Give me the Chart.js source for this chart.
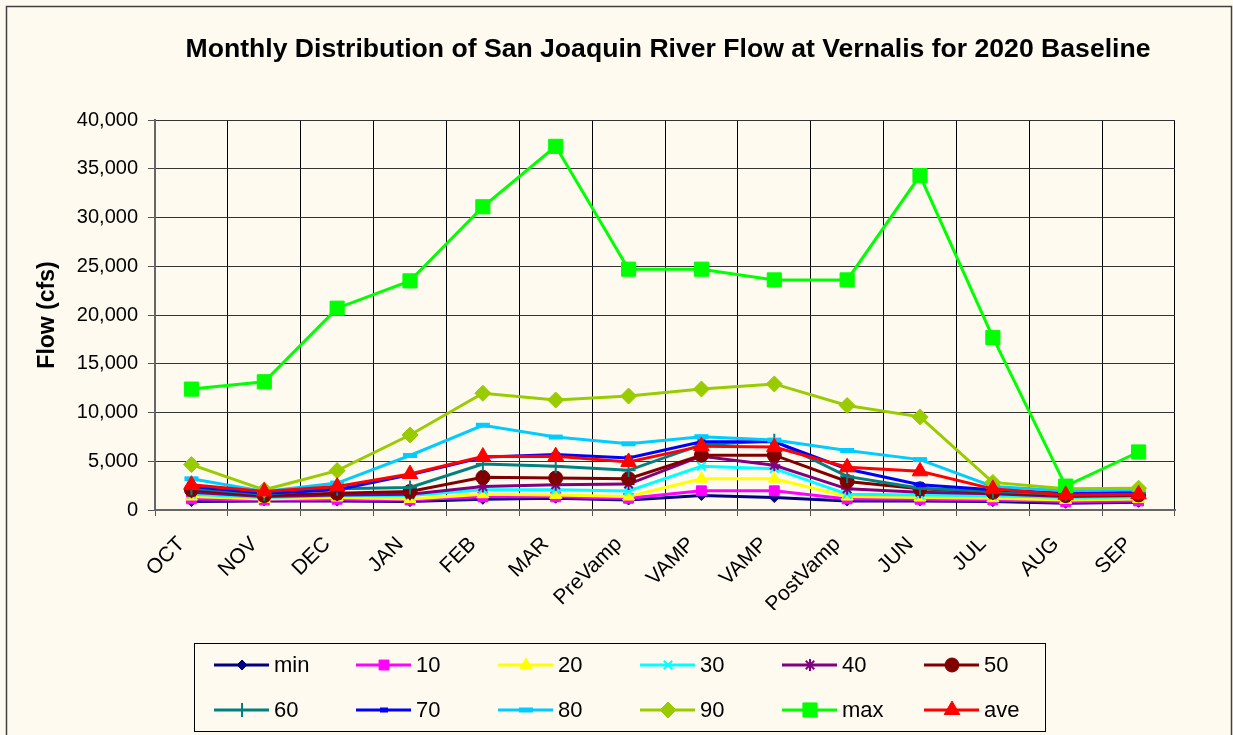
<!DOCTYPE html>
<html>
<head>
<meta charset="utf-8">
<script src="https://cdn.jsdelivr.net/npm/chart.js@4/dist/chart.umd.min.js"></script>
<style>
  html, body { margin: 0; padding: 0; background: #FFFAF0; overflow: hidden; }
  canvas { display: block; }
</style>
</head>
<body>
<canvas id="c" width="1233" height="735" style="width:1233px;height:735px"></canvas>
<script>
const chartTitle = 'Monthly Distribution of San Joaquin River Flow at Vernalis for 2020 Baseline';
const yAxisTitle = 'Flow (cfs)';
const categories = ['OCT','NOV','DEC','JAN','FEB','MAR','PreVamp','VAMP','VAMP','PostVamp','JUN','JUL','AUG','SEP'];
const yTicks = [0, 5000, 10000, 15000, 20000, 25000, 30000, 35000, 40000];

const seriesNames = ['min','10','20','30','40','50','60','70','80','90','max','ave'];
const minFlow = [860, 930, 930, 860, 1100, 1210, 1030, 1480, 1280, 930, 930, 860, 690, 790];
const p10     = [1140, 1030, 1100, 1030, 1350, 1350, 1200, 1970, 1970, 1140, 1100, 1030, 860, 930];
const p20     = [1380, 1140, 1280, 1140, 1620, 1550, 1380, 3210, 3210, 1380, 1280, 1210, 1030, 1140];
const p30     = [1620, 1280, 1450, 1480, 2070, 2070, 1950, 4480, 4240, 1620, 1550, 1450, 1280, 1340];
const p40     = [1830, 1380, 1550, 1620, 2410, 2590, 2660, 5520, 4590, 2170, 1830, 1660, 1380, 1480];
const p50     = [2070, 1480, 1720, 1900, 3350, 3280, 3210, 5620, 5620, 2930, 2170, 1830, 1480, 1550];
const p60     = [2240, 1620, 2170, 2310, 4720, 4480, 4070, 6700, 7100, 3450, 2240, 1900, 1620, 1720];
const p70     = [2410, 1720, 2070, 3620, 5410, 5690, 5340, 7000, 7000, 4210, 2590, 2070, 1720, 1830];
const p80     = [3200, 1900, 2760, 5590, 8690, 7480, 6790, 7520, 7170, 6100, 5170, 2410, 1970, 2070];
const p90     = [4660, 2070, 4040, 7690, 11970, 11280, 11690, 12410, 12930, 10720, 9550, 2830, 2170, 2240];
const maxFlow = [12400, 13150, 20700, 23500, 31100, 37300, 24700, 24700, 23600, 23600, 34300, 17700, 2450, 5950];
const aveFlow = [2590, 1900, 2410, 3690, 5480, 5520, 4930, 6550, 6450, 4380, 3970, 2170, 1550, 1620];

const seriesValues = [minFlow, p10, p20, p30, p40, p50, p60, p70, p80, p90, maxFlow, aveFlow];
const seriesColors = ['#000080','#FF00FF','#FFFF00','#00FFFF','#800080','#800000','#008080','#0000FF','#00CCFF','#99CC00','#00FF00','#FF0000'];
const seriesMarkers = ['rectRot','rect','triangle','crossRot','star','circle','cross','line','line','rectRot','rect','triangle'];
const markerRadius = [5, 7, 7, 6, 6, 7, 7, 4, 7, 8, 10, 9];
const markerBorder = [1, 1, 1, 2, 2, 1, 2, 5, 5, 1, 1, 1];

const FONT = 'Arial, "Liberation Sans", Helvetica, sans-serif';
const BG = '#FFFAF0';

const datasets = seriesNames.map((name, i) => ({
  label: name,
  data: seriesValues[i],
  borderColor: seriesColors[i],
  backgroundColor: seriesColors[i],
  borderWidth: 3,
  pointStyle: seriesMarkers[i],
  pointRadius: markerRadius[i],
  pointBorderWidth: markerBorder[i],
  pointBackgroundColor: seriesColors[i],
  pointBorderColor: seriesColors[i],
  tension: 0,
  fill: false,
  order: seriesNames.length - 1 - i
}));

const decor = {
  id: 'decor',
  beforeDraw(chart) {
    const ctx = chart.ctx;
    ctx.save();
    ctx.fillStyle = BG;
    ctx.fillRect(0, 0, chart.width, chart.height);
    ctx.restore();
  },
  afterDraw(chart) {
    const ctx = chart.ctx;
    ctx.save();
    // outer border
    ctx.strokeStyle = '#404040';
    ctx.lineWidth = 1.5;
    ctx.strokeRect(6.5, 6.5, 1225, 740);
    // title
    ctx.fillStyle = '#000';
    ctx.font = 'bold 26.6px ' + FONT;
    ctx.textAlign = 'center';
    ctx.textBaseline = 'middle';
    ctx.fillText(chartTitle, 668, 50);
    // legend box
    ctx.strokeStyle = '#000';
    ctx.lineWidth = 1;
    ctx.strokeRect(194.5, 643.5, 851, 88);
    const colX = [214, 356, 498, 640, 782, 924];
    const rowY = [665, 710];
    ctx.font = '22px ' + FONT;
    ctx.textAlign = 'left';
    seriesNames.forEach((name, i) => {
      const x = colX[i % 6];
      const y = rowY[Math.floor(i / 6)];
      ctx.strokeStyle = seriesColors[i];
      ctx.lineWidth = 3;
      ctx.beginPath();
      ctx.moveTo(x, y);
      ctx.lineTo(x + 55, y);
      ctx.stroke();
      ctx.fillStyle = seriesColors[i];
      ctx.strokeStyle = seriesColors[i];
      ctx.lineWidth = markerBorder[i];
      Chart.helpers.drawPoint(ctx, {
        pointStyle: seriesMarkers[i],
        radius: markerRadius[i],
        rotation: 0,
        borderWidth: markerBorder[i]
      }, x + 28, y);
      ctx.fillStyle = '#000';
      ctx.textBaseline = 'middle';
      ctx.fillText(name, x + 60, y + 1);
    });
    ctx.restore();
  }
};

new Chart(document.getElementById('c'), {
  type: 'line',
  data: { labels: categories, datasets },
  options: {
    responsive: false,
    devicePixelRatio: 1,
    animation: false,
    events: [],
    layout: { padding: { top: 120, right: 58, bottom: 125, left: 0 } },
    plugins: {
      legend: { display: false },
      title: { display: false },
      tooltip: { enabled: false }
    },
    scales: {
      x: {
        type: 'category',
        offset: true,
        afterFit: s => { s.height = 100; },
        grid: { offset: true, color: '#000', lineWidth: 1, tickLength: 6, tickColor: '#555' },
        border: { color: '#666', width: 2 },
        ticks: {
          autoSkip: false,
          minRotation: 45,
          maxRotation: 45,
          padding: 16,
          labelOffset: -10,
          color: '#000',
          font: { family: FONT, size: 21 }
        }
      },
      y: {
        min: 0,
        max: 40000,
        afterFit: s => { s.width = 155; },
        afterBuildTicks: s => { s.ticks = yTicks.map(v => ({ value: v })); },
        grid: { color: '#333', lineWidth: 1, tickLength: 7, tickColor: '#555' },
        border: { color: '#666', width: 2 },
        ticks: {
          padding: 10,
          color: '#000',
          font: { family: FONT, size: 20 },
          callback: v => v.toLocaleString('en-US')
        },
        title: {
          display: true,
          text: yAxisTitle,
          color: '#000',
          font: { family: FONT, size: 23, weight: 'bold' },
          padding: { top: 34, bottom: 0 }
        }
      }
    }
  },
  plugins: [decor]
});
</script>
</body>
</html>
